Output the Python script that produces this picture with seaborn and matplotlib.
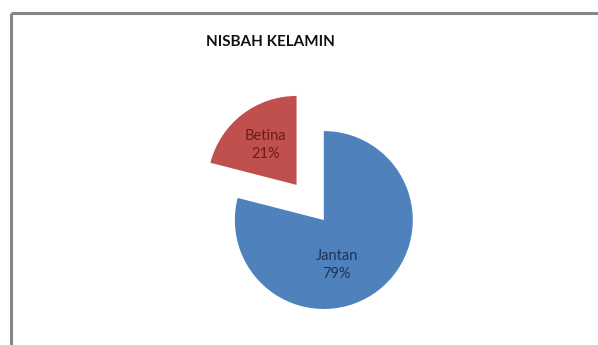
import numpy as np
import matplotlib
matplotlib.use("Agg")
import matplotlib.pyplot as plt
from matplotlib.lines import Line2D
import seaborn as sns

# Data
categories = ["Jantan", "Betina"]
shares = [79, 21]
title = "NISBAH KELAMIN"

# Styling
slice_colors = sns.color_palette(["#4F81BD", "#C0504D"])
label_colors = ["#1F3358", "#6E1A18"]
explode = [0.0, 0.5]
label_angle_shift = [-22, 0]   # degrees, nudges the in-slice label
label_radius = [0.53, 0.57]

sns.set_theme(style="white")
plt.rcParams["font.family"] = ["Lato", "DejaVu Sans"]

fig = plt.figure(figsize=(5.98, 3.45), dpi=100)
fig.patch.set_facecolor("white")

ax = fig.add_axes([0.244, 0.001, 0.595, 0.774])
wedges, _ = ax.pie(
    shares,
    colors=slice_colors,
    explode=explode,
    startangle=90,
    counterclock=False,
    radius=1.0,
    wedgeprops=dict(linewidth=0, edgecolor="none"),
)
for w in wedges:
    w.set_clip_on(False)

total = float(sum(shares))
for i, w in enumerate(wedges):
    mid = np.deg2rad((w.theta1 + w.theta2) / 2.0)
    cx, cy = w.center
    ang = mid + np.deg2rad(label_angle_shift[i])
    x = cx + label_radius[i] * np.cos(ang)
    y = cy + label_radius[i] * np.sin(ang)
    pct = shares[i] / total * 100
    ax.text(x, y, f"{categories[i]}\n{pct:.0f}%", ha="center", va="center",
            fontsize=10.5, color=label_colors[i], linespacing=1.35)

ax.set_xlim(-2, 2)
ax.set_ylim(-1.4, 1.6)
ax.set_aspect("equal")
ax.axis("off")

fig.text(0.4515, 0.878, title, ha="center", va="center",
         fontsize=11, fontweight="bold", color="#111111")

# Chart area border (top and left edges)
ytop = 1 - 13 / 345
xleft = 11 / 598
fig.add_artist(Line2D([xleft, 1.0], [ytop, ytop], transform=fig.transFigure,
                      color="#868686", linewidth=2.2, solid_capstyle="butt"))
fig.add_artist(Line2D([xleft, xleft], [0.0, ytop], transform=fig.transFigure,
                      color="#868686", linewidth=2.2, solid_capstyle="butt"))

fig.savefig("out.png", dpi=100, facecolor="white")
